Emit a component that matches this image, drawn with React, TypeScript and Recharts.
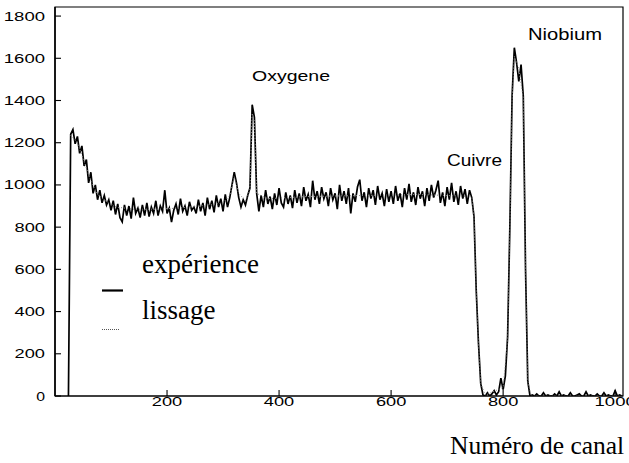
import { Line, LineChart, ReferenceArea, XAxis, YAxis } from "recharts";

// spectre mesuré : un point tous les 4 canaux à partir du canal 24
const CHANNEL_START = 24;
const CHANNEL_STEP = 4;
const EXPERIENCE_COUNTS = [
	0, 1240, 1262, 1195, 1230, 1150, 1185, 1090, 1120, 1010, // 24
	1060, 960, 1000, 930, 975, 915, 950, 905, 930, 880, // 64
	925, 860, 910, 845, 825, 905, 855, 900, 840, 940, // 104
	865, 890, 845, 905, 855, 915, 850, 895, 865, 925, // 144
	855, 900, 875, 975, 865, 890, 824, 880, 910, 860, // 184
	935, 875, 900, 855, 920, 880, 895, 865, 930, 875, // 224
	915, 855, 940, 885, 925, 870, 950, 895, 935, 875, // 264
	955, 895, 940, 1000, 1060, 1010, 940, 895, 930, 905, // 304
	950, 985, 1380, 1320, 960, 875, 950, 895, 975, 910, // 344
	945, 885, 960, 905, 985, 915, 895, 965, 910, 950, // 384
	890, 975, 915, 960, 900, 990, 925, 955, 895, 1020, // 424
	930, 970, 910, 990, 935, 965, 900, 985, 930, 960, // 464
	885, 1000, 925, 970, 910, 985, 865, 960, 920, 990, // 504
	1025, 925, 965, 895, 985, 935, 975, 905, 995, 930, // 544
	960, 900, 980, 920, 970, 910, 995, 925, 960, 895, // 584
	985, 930, 1005, 920, 965, 905, 990, 935, 970, 900, // 624
	985, 925, 1000, 940, 975, 1020, 915, 965, 900, 990, // 664
	930, 1010, 920, 970, 905, 995, 935, 980, 910, 975, // 704
	940, 850, 500, 250, 60, 5, 0, 15, 0, 10, // 744
	25, 5, 20, 85, 30, 95, 280, 800, 1420, 1650, // 784
	1580, 1490, 1570, 1420, 600, 70, 0, 5, 0, 10, // 824
	0, 0, 15, 0, 5, 0, 0, 10, 0, 20, // 864
	0, 5, 0, 0, 15, 0, 0, 5, 10, 0, // 904
	0, 20, 0, 5, 0, 0, 10, 0, 0, 15, // 944
	0, 5, 0, 0, 25, 0, 5, 0, // 984
];

// courbe lissée
const LISSAGE_CHANNELS = [
	28, 40, 52, 64, 76, 90, 110, 140, 180, 220, 260, 300, 312, 320, 328, 340, 348, 352, 356, 360, 380, 450, 550, 650,
	744, 748, 752, 756, 760, 768, 800, 808, 812, 816, 820, 828, 836, 840, 844, 850, 1012,
];
const LISSAGE_COUNTS = [
	1235, 1200, 1110, 1020, 955, 925, 895, 885, 885, 890, 900, 915, 950, 1040, 960, 925, 975, 1340, 1300, 960, 935, 945,
	950, 955, 945, 845, 500, 250, 60, 5, 40, 270, 790, 1400, 1610, 1550, 1410, 610, 70, 0, 0,
];

const X_LABELS = [200, 400, 600, 800, 1000];
const X_MINOR = [50, 100, 150, 250, 300, 350, 450, 500, 550, 650, 700, 750, 850, 900, 950];
const Y_LABELS = [0, 200, 400, 600, 800, 1000, 1200, 1400, 1600, 1800];
const Y_MINOR = [
	50, 100, 150, 250, 300, 350, 450, 500, 550, 650, 700, 750, 850, 900, 950, 1050, 1100, 1150, 1250, 1300, 1350, 1450,
	1500, 1550, 1650, 1700, 1750,
];
const X_MAX = 1014;
const Y_MAX = 1843;

const experienceData = EXPERIENCE_COUNTS.map((v, i) => ({ ch: CHANNEL_START + i * CHANNEL_STEP, v }));
const lissageData = LISSAGE_CHANNELS.map((ch, i) => ({ ch, v: LISSAGE_COUNTS[i] }));

const SANS = "'Liberation Sans', Arial, sans-serif";
const SERIF = "'Liberation Serif', 'Times New Roman', serif";

// les graduations sont tournées vers l'intérieur (tickSize négatif) : le libellé est recalé à la main
function YTick(props: any) {
	const { x, y, payload } = props;
	const label = String(payload.value);
	return (
		<text
			x={x - 16}
			y={y + 4.5}
			textAnchor="end"
			fontFamily={SANS}
			fontSize={12}
			textLength={10.8 * label.length - 2}
			lengthAdjust="spacingAndGlyphs"
		>
			{label}
		</text>
	);
}

function XTick(props: any) {
	const { x, y, payload } = props;
	const label = String(payload.value);
	return (
		<text
			x={x}
			y={y + 16}
			textAnchor="middle"
			fontFamily={SANS}
			fontSize={12}
			textLength={10.8 * label.length - 2}
			lengthAdjust="spacingAndGlyphs"
		>
			{label}
		</text>
	);
}

const noTick = () => <g />;

export default function App() {
	return (
		<div style={{ position: "absolute", left: 0, top: 0, width: 629, height: 463, background: "#fff" }}>
			<LineChart width={629} height={463} margin={{ top: 7, right: 6, bottom: 37, left: 0 }}>
				<XAxis
					type="number"
					dataKey="ch"
					domain={[0, X_MAX]}
					ticks={X_LABELS}
					interval={0}
					height={30}
					tickSize={-6}
					tickMargin={0}
					tickLine={{ stroke: "#000", strokeWidth: 1.1 }}
					axisLine={{ stroke: "#000", strokeWidth: 1.2 }}
					tick={(p: any) => <XTick {...p} />}
					allowDataOverflow
				/>
				<XAxis
					xAxisId="minor"
					type="number"
					dataKey="ch"
					domain={[0, X_MAX]}
					ticks={X_MINOR}
					interval={0}
					height={0}
					tickSize={-4}
					tickMargin={0}
					tickLine={{ stroke: "#000", strokeWidth: 1.1 }}
					axisLine={false}
					tick={noTick}
					allowDataOverflow
				/>
				<YAxis
					type="number"
					domain={[0, Y_MAX]}
					ticks={Y_LABELS}
					interval={0}
					width={55}
					tickSize={-6}
					tickMargin={0}
					tickLine={{ stroke: "#000", strokeWidth: 1.1 }}
					axisLine={{ stroke: "#000", strokeWidth: 1.5 }}
					tick={(p: any) => <YTick {...p} />}
					allowDataOverflow
				/>
				<YAxis
					yAxisId="minor"
					type="number"
					domain={[0, Y_MAX]}
					ticks={Y_MINOR}
					interval={0}
					width={0}
					tickSize={-4}
					tickMargin={0}
					tickLine={{ stroke: "#000", strokeWidth: 1.1 }}
					axisLine={false}
					tick={noTick}
					allowDataOverflow
				/>
				<ReferenceArea x1={0} x2={X_MAX} y1={0} y2={Y_MAX} fill="none" stroke="#000" strokeWidth={1.2} ifOverflow="visible" />
				<Line
					data={experienceData}
					dataKey="v"
					type="linear"
					stroke="#000"
					strokeWidth={1.7}
					dot={false}
					isAnimationActive={false}
				/>
				<Line
					data={lissageData}
					dataKey="v"
					type="linear"
					stroke="#888"
					strokeWidth={1}
					strokeDasharray="1 2"
					dot={false}
					isAnimationActive={false}
				/>
			</LineChart>
			<svg width={629} height={463} style={{ position: "absolute", left: 0, top: 0, pointerEvents: "none" }}>
				<text x={252} y={81} fontFamily={SANS} fontSize={15} textLength={78} lengthAdjust="spacingAndGlyphs">
					Oxygene
				</text>
				<text x={528} y={40} fontFamily={SANS} fontSize={17} textLength={74} lengthAdjust="spacingAndGlyphs">
					Niobium
				</text>
				<text x={447} y={165.5} fontFamily={SANS} fontSize={17} textLength={55} lengthAdjust="spacingAndGlyphs">
					Cuivre
				</text>
				<text x={142} y={273} fontFamily={SERIF} fontSize={27}>
					expérience
				</text>
				<line x1={102} x2={123} y1={290.5} y2={290.5} stroke="#000" strokeWidth={2.2} />
				<text x={142} y={319} fontFamily={SERIF} fontSize={27}>
					lissage
				</text>
				<line x1={102} x2={120} y1={329.5} y2={329.5} stroke="#555" strokeWidth={1} strokeDasharray="1 1" />
				<text x={450} y={454} fontFamily={SERIF} fontSize={25.5}>
					Numéro de canal
				</text>
			</svg>
		</div>
	);
}
